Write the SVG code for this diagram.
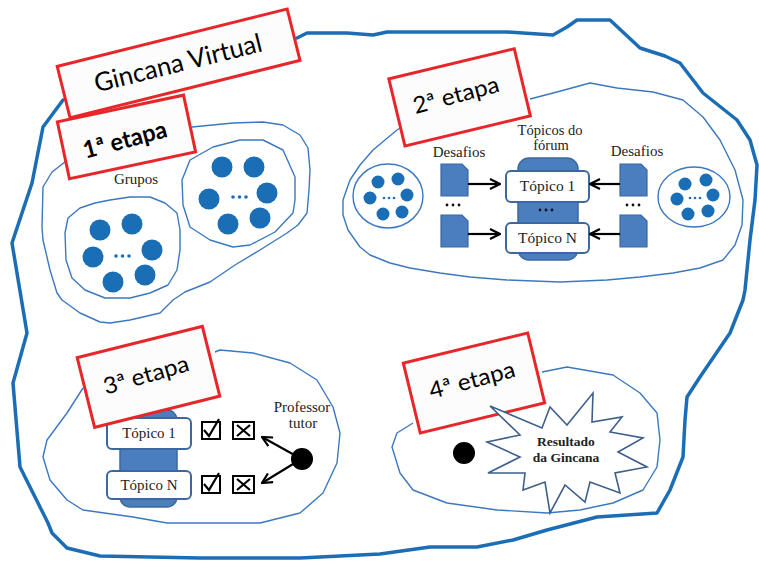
<svg xmlns="http://www.w3.org/2000/svg" width="759" height="564" viewBox="0 0 759 564">
<defs>
<style>
.outer{fill:none;stroke:#1b6db6;stroke-width:3.5;stroke-linejoin:round;stroke-linecap:round}
.blob{fill:none;stroke:#3b78c0;stroke-width:1.4;stroke-linejoin:round}
.dot{fill:#1a6eb6}
.edot{fill:#1a6eb6}
.red{fill:#fcfcfc;stroke:#e8262a;stroke-width:3}
.hand{font-family:Lato,"DejaVu Sans",sans-serif;fill:#000;text-anchor:middle}
.serif{font-family:"Liberation Serif","Times New Roman",serif;fill:#222;text-anchor:middle}
.cyl{fill:#4a7ebf;stroke:#3b68a0;stroke-width:1.5}
.topic{fill:#fff;stroke:#3b68a0;stroke-width:2}
.doc{fill:#4a7ebf;stroke:#3b68a0;stroke-width:1.2}
.arrow{fill:none;stroke:#000;stroke-width:2.2}
.box{fill:#fff;stroke:#000;stroke-width:2}
.mark{fill:none;stroke:#000;stroke-width:2.2}
</style>
<marker id="ah" viewBox="0 0 12 12" refX="11" refY="6" markerWidth="12" markerHeight="12" markerUnits="userSpaceOnUse" orient="auto">
<path d="M1,1 L11,6 L1,11" fill="none" stroke="#000" stroke-width="2.2"/>
</marker>
</defs>
<rect width="759" height="564" fill="#fff"/>

<g id="outer-boundary">
<path class="outer" d="M297,38 L307,33 L347,33 L373,35 L387,32 L447,32 L507,32 L553,35 L567,27 L577,20 L610,20 L625,34 L640,48 L665,56 L680,63 L703,93 L737,120 L750,140 L757,165 L755,200 L750,240 L745,290 L743,300 L730,333 L700,377 L687,397 L685,420 L683,457 L670,490 L657,513 L597,517 L547,530 L513,540 L477,547 L430,547 L380,554 L300,558 L200,558 L100,556 L67,548 L52,533 L48,523 L20,467 L13,383 L27,333 L12,243 L32,183 L43,127 L63,100"/>
</g>

<g id="stage1">
<path class="blob" d="M70,160 L65,162 L52,172 L43,187 L42,227 L43,240 L50,270 L57,293 L62,300 L80,313 L100,322 L110,323 L130,320 L160,313 L173,300 L185,292 L210,282 L235,265 L260,250 L287,233 L298,225 L307,213 L309,190 L310,170 L308,148 L300,135 L283,125 L263,122 L233,123 L192,127"/>
<text class="serif" x="136" y="184" font-size="15">Grupos</text>
<g id="group-a">
<path class="blob" d="M65,233 L68,218 L80,208 L95,203 L110,200 L130,197 L150,197 L165,203 L177,213 L180,230 L180,250 L177,270 L168,285 L150,293 L130,298 L105,298 L85,290 L72,278 L66,260 Z"/>
<circle class="dot" cx="100" cy="230" r="10.5"/>
<circle class="dot" cx="132" cy="224" r="10.5"/>
<circle class="dot" cx="93" cy="257" r="10.5"/>
<circle class="dot" cx="152" cy="250" r="10.5"/>
<circle class="dot" cx="113" cy="282" r="10.5"/>
<circle class="dot" cx="145" cy="275" r="10.5"/>
<circle class="edot" cx="116" cy="256" r="1.8"/><circle class="edot" cx="122.5" cy="256" r="1.8"/><circle class="edot" cx="129" cy="256" r="1.8"/>
</g>
<g id="group-b">
<path class="blob" d="M182,180 L190,160 L213,147 L240,140 L263,140 L283,150 L295,177 L295,200 L293,213 L275,232 L250,245 L233,247 L210,240 L190,227 L183,205 Z"/>
<circle class="dot" cx="222" cy="167" r="10.5"/>
<circle class="dot" cx="254" cy="167" r="10.5"/>
<circle class="dot" cx="209" cy="199" r="10.5"/>
<circle class="dot" cx="267" cy="193" r="10.5"/>
<circle class="dot" cx="228" cy="224" r="10.5"/>
<circle class="dot" cx="260" cy="218" r="10.5"/>
<circle class="edot" cx="233" cy="197" r="1.8"/><circle class="edot" cx="239.5" cy="197" r="1.8"/><circle class="edot" cx="246" cy="197" r="1.8"/>
</g>
</g>

<g id="stage2">
<path class="blob" d="M530,99 L557,92 L590,83 L617,88 L653,92 L683,100 L703,117 L720,140 L735,170 L743,200 L742,225 L735,245 L723,260 L700,268 L673,273 L640,277 L607,280 L560,282 L507,280 L470,277 L440,273 L410,268 L390,263 L370,255 L360,247 L348,230 L343,215 L343,200 L350,180 L360,165 L373,150 L385,140 L397,130 L405,125"/>
<g id="cluster-left">
<ellipse class="blob" cx="388" cy="196" rx="35" ry="32"/>
<circle class="dot" cx="378" cy="182" r="6.5"/>
<circle class="dot" cx="398" cy="179" r="6.5"/>
<circle class="dot" cx="370" cy="198" r="6.5"/>
<circle class="dot" cx="407" cy="195" r="6.5"/>
<circle class="dot" cx="383" cy="214" r="6.5"/>
<circle class="dot" cx="402" cy="212" r="6.5"/>
<circle class="edot" cx="384" cy="198" r="1.3"/><circle class="edot" cx="389" cy="198" r="1.3"/><circle class="edot" cx="394" cy="198" r="1.3"/>
</g>
<g id="cluster-right">
<ellipse class="blob" cx="694" cy="197" rx="36" ry="30"/>
<circle class="dot" cx="685" cy="184" r="6.5"/>
<circle class="dot" cx="706" cy="180" r="6.5"/>
<circle class="dot" cx="677" cy="199" r="6.5"/>
<circle class="dot" cx="713" cy="195" r="6.5"/>
<circle class="dot" cx="688" cy="214" r="6.5"/>
<circle class="dot" cx="708" cy="211" r="6.5"/>
<circle class="edot" cx="690" cy="198" r="1.3"/><circle class="edot" cx="695" cy="198" r="1.3"/><circle class="edot" cx="700" cy="198" r="1.3"/>
</g>
<text class="serif" x="459" y="157" font-size="15">Desafios</text>
<text class="serif" x="637" y="156" font-size="15">Desafios</text>
<text class="serif" x="550" y="135" font-size="14.5">Tópicos do</text>
<text class="serif" x="551" y="150" font-size="14.5">fórum</text>
<g id="forum2">
<rect class="cyl" x="518" y="158" width="60" height="102" rx="11"/>
<rect class="topic" x="506" y="171" width="83" height="31" rx="5"/>
<text class="serif" x="547.5" y="191" font-size="15.5">Tópico 1</text>
<rect class="topic" x="506" y="223" width="83" height="30" rx="5"/>
<text class="serif" x="547.5" y="243" font-size="15.5">Tópico N</text>
<circle cx="540" cy="210" r="1.4" fill="#111"/><circle cx="546" cy="210" r="1.4" fill="#111"/><circle cx="552" cy="210" r="1.4" fill="#111"/>
</g>
<g id="docs-left">
<path class="doc" d="M441,164 H462 L468,170 V196 H441 Z"/>
<path class="doc" d="M441,215 H462 L468,221 V247 H441 Z"/>
<circle cx="447" cy="205" r="1.4" fill="#111"/><circle cx="453" cy="205" r="1.4" fill="#111"/><circle cx="459" cy="205" r="1.4" fill="#111"/>
</g>
<g id="docs-right">
<path class="doc" d="M620,164 H641 L647,170 V196 H620 Z"/>
<path class="doc" d="M620,215 H641 L647,221 V247 H620 Z"/>
<circle cx="627" cy="205" r="1.4" fill="#111"/><circle cx="633" cy="205" r="1.4" fill="#111"/><circle cx="639" cy="205" r="1.4" fill="#111"/>
</g>
</g>

<g id="stage3">
<path class="blob" d="M215,352 L220,350 L253,353 L290,363 L317,380 L333,407 L340,433 L337,463 L323,493 L300,513 L260,523 L200,523 L167,523 L133,517 L83,510 L67,500 L50,480 L43,457 L47,440 L67,413 L83,388"/>
<g id="forum3">
<rect class="cyl" x="120" y="410" width="57" height="97" rx="10"/>
<rect class="topic" x="107" y="418" width="84" height="31" rx="5"/>
<text class="serif" x="149" y="438" font-size="15">Tópico 1</text>
<rect class="topic" x="107" y="471" width="84" height="28" rx="5"/>
<text class="serif" x="149" y="490" font-size="15">Tópico N</text>
</g>
<g id="checks">
<rect class="box" x="202" y="422" width="18" height="17"/>
<path class="mark" d="M204,430 L209,436 L219,419"/>
<rect class="box" x="233" y="422" width="21" height="17"/>
<path class="mark" d="M237,425 L250,436 M250,425 L237,436"/>
<rect class="box" x="202" y="476" width="18" height="17"/>
<path class="mark" d="M204,484 L209,490 L219,473"/>
<rect class="box" x="233" y="476" width="21" height="17"/>
<path class="mark" d="M237,479 L250,490 M250,479 L237,490"/>
</g>
<g id="tutor">
<text class="serif" x="302" y="412" font-size="15">Professor</text>
<text class="serif" x="303" y="428" font-size="15">tutor</text>
<circle cx="302" cy="459" r="11" fill="#000"/>
</g>
</g>

<g id="stage4">
<path class="blob" d="M542,372 L567,367 L613,375 L640,393 L657,413 L660,440 L657,467 L643,490 L613,503 L580,510 L547,513 L497,510 L447,503 L413,490 L400,473 L392,447 L397,433 L413,423"/>
<circle cx="464" cy="453" r="11" fill="#000"/>
</g>

<g id="connectors">
<line class="arrow" x1="468" y1="184" x2="500" y2="184" marker-end="url(#ah)"/>
<line class="arrow" x1="468" y1="234" x2="500" y2="234" marker-end="url(#ah)"/>
<line class="arrow" x1="620" y1="184" x2="590" y2="184" marker-end="url(#ah)"/>
<line class="arrow" x1="620" y1="234" x2="590" y2="234" marker-end="url(#ah)"/>
<line class="arrow" x1="298" y1="457" x2="262" y2="437" marker-end="url(#ah)"/>
<line class="arrow" x1="298" y1="461" x2="262" y2="483" marker-end="url(#ah)"/>
</g>

<g id="title">
<g transform="translate(178,63) rotate(-14)">
<rect class="red" x="-118" y="-26" width="237" height="53"/>
<text class="hand" x="0" y="9" font-size="26" textLength="172" lengthAdjust="spacingAndGlyphs">Gincana Virtual</text>
</g>
</g>
<g id="label-etapa1">
<g transform="translate(126,137) rotate(-12)">
<rect class="red" x="-64" y="-29" width="129" height="58"/>
</g>
<text class="hand" transform="translate(125,140) rotate(-15)" x="0" y="8" font-size="24" font-weight="bold" textLength="86" lengthAdjust="spacingAndGlyphs">1ª etapa</text>
</g>
<g id="label-etapa2">
<g transform="translate(459,97) rotate(-13.5)">
<rect class="red" x="-64" y="-34" width="129" height="69"/>
</g>
<text class="hand" transform="translate(456,95) rotate(-15)" x="0" y="8" font-size="23" textLength="88" lengthAdjust="spacingAndGlyphs">2ª etapa</text>
</g>
<g id="label-etapa3">
<g transform="translate(148,377) rotate(-14)">
<rect class="red" x="-64" y="-36" width="129" height="72"/>
</g>
<text class="hand" transform="translate(146,375) rotate(-16)" x="0" y="8" font-size="23" textLength="88" lengthAdjust="spacingAndGlyphs">3ª etapa</text>
</g>
<g id="label-etapa4">
<g transform="translate(474,383) rotate(-13.6)">
<rect class="red" x="-64" y="-36" width="128" height="72"/>
</g>
<text class="hand" transform="translate(472,380) rotate(-15)" x="0" y="8" font-size="23" textLength="88" lengthAdjust="spacingAndGlyphs">4ª etapa</text>
</g>

<g id="resultado">
<path d="M490,406 L542,428 L550,407 L567,425 L593,393 L592,422 L622,417 L610,432 L643,438 L618,452 L647,467 L615,473 L620,493 L590,482 L585,502 L565,485 L550,513 L545,482 L523,490 L525,473 L488,473 L520,457 L487,442 L520,435 Z" fill="#fff" stroke="#3d5f8c" stroke-width="1.6" stroke-linejoin="miter"/>
<text class="serif" x="566" y="446" font-size="13.5" font-weight="bold" fill="#111">Resultado</text>
<text class="serif" x="566" y="462" font-size="13.5" font-weight="bold" fill="#111">da Gincana</text>
</g>
</svg>
